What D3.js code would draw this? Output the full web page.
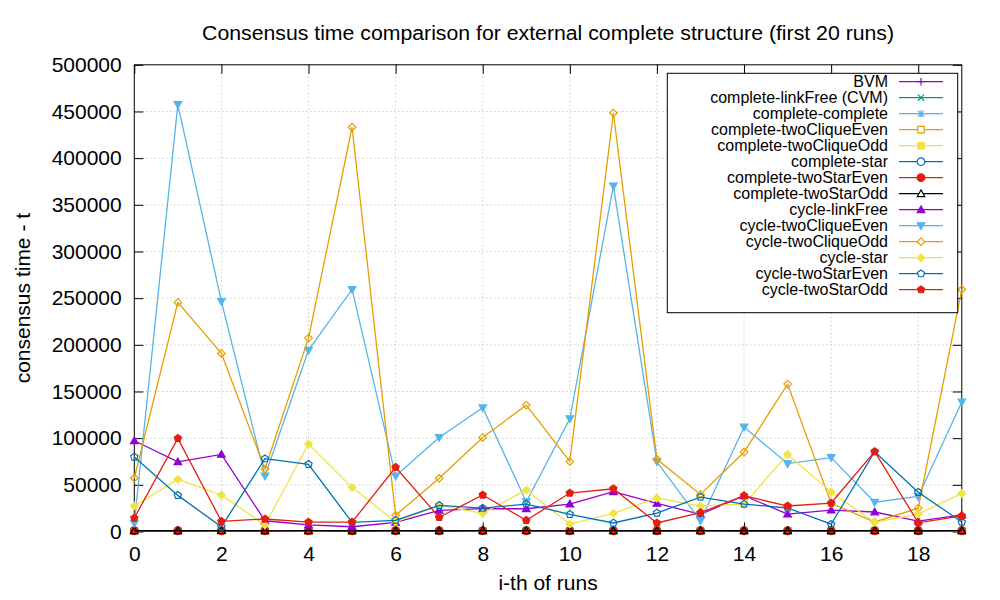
<!DOCTYPE html>
<html>
<head>
<meta charset="utf-8">
<script src="https://cdn.jsdelivr.net/npm/d3@7"></script>
<style>
  body { margin: 0; background: #fff; }
  text { font-family: "Liberation Sans", Arial, sans-serif; fill: #000; }
</style>
</head>
<body>
<script>
// runs on the x axis
var runs = d3.range(0, 20);
var xTicks = [0, 2, 4, 6, 8, 10, 12, 14, 16, 18];
var yTicks = [0, 50000, 100000, 150000, 200000, 250000, 300000, 350000, 400000, 450000, 500000];

// consensus time per run, one array per series
var bvm                    = [520, 480, 610, 450, 530, 590, 470, 500, 560, 440, 510, 620, 480, 530, 470, 550, 600, 490, 520, 460];
var completeLinkFree       = [610, 540, 480, 560, 500, 470, 590, 520, 450, 600, 530, 480, 560, 510, 590, 440, 520, 570, 490, 540];
var completeComplete       = [700, 560, 650, 520, 610, 580, 540, 660, 590, 520, 630, 570, 600, 550, 640, 590, 520, 610, 560, 620];
var completeTwoCliqueEven  = [820, 760, 690, 850, 720, 780, 810, 700, 760, 830, 690, 750, 800, 720, 780, 850, 730, 690, 770, 810];
var completeTwoCliqueOdd   = [900, 840, 950, 780, 880, 920, 860, 810, 940, 870, 820, 910, 850, 890, 930, 800, 870, 950, 830, 890];
var completeStar           = [650, 720, 590, 680, 740, 610, 700, 650, 620, 710, 680, 590, 730, 660, 620, 700, 640, 690, 610, 720];
var completeTwoStarEven    = [860, 910, 800, 940, 870, 830, 900, 960, 850, 880, 930, 820, 890, 940, 860, 810, 920, 880, 950, 840];
var completeTwoStarOdd     = [780, 830, 900, 760, 850, 810, 870, 790, 840, 900, 770, 860, 820, 880, 800, 850, 790, 910, 830, 860];
var cycleLinkFree          = [97200, 74700, 82600, 11500, 7000, 5100, 9800, 22700, 24400, 24400, 29400, 42600, 30200, 18400, 38300, 18700, 23000, 20900, 11200, 17700];
var cycleTwoCliqueEven     = [8800, 457400, 246500, 59400, 194300, 259300, 59400, 100800, 132600, 31900, 120800, 370300, 74700, 11600, 111900, 72700, 79200, 31400, 37500, 138700];
var cycleTwoCliqueOdd      = [57300, 245400, 190800, 66900, 207200, 433100, 17300, 57000, 100800, 135400, 75100, 448400, 77300, 39700, 85100, 157900, 30200, 10200, 25000, 259300];
var cycleStar              = [27300, 55900, 39100, 7000, 93700, 47300, 10200, 28000, 19500, 44400, 8000, 19500, 35900, 27300, 29400, 82600, 42300, 9800, 18700, 40900];
var cycleTwoStarEven       = [79800, 38700, 5000, 78000, 71900, 9800, 12000, 28000, 25000, 29400, 18400, 9100, 19800, 36900, 29400, 25200, 7800, 85500, 42100, 10100];
var cycleTwoStarOdd        = [14400, 99800, 10900, 13400, 10000, 10000, 68700, 15200, 39100, 12000, 41200, 45800, 9100, 20200, 38300, 27300, 30500, 85500, 9300, 16700];

var seriesNames = ["BVM", "complete-linkFree (CVM)", "complete-complete", "complete-twoCliqueEven",
  "complete-twoCliqueOdd", "complete-star", "complete-twoStarEven", "complete-twoStarOdd",
  "cycle-linkFree", "cycle-twoCliqueEven", "cycle-twoCliqueOdd", "cycle-star",
  "cycle-twoStarEven", "cycle-twoStarOdd"];
var seriesValues = [bvm, completeLinkFree, completeComplete, completeTwoCliqueEven,
  completeTwoCliqueOdd, completeStar, completeTwoStarEven, completeTwoStarOdd,
  cycleLinkFree, cycleTwoCliqueEven, cycleTwoCliqueOdd, cycleStar,
  cycleTwoStarEven, cycleTwoStarOdd];
var seriesColors = ["#9400d3", "#009e73", "#56b4e9", "#e69f00", "#f0e442", "#0072b2", "#e51e10", "#000000",
  "#9400d3", "#56b4e9", "#e69f00", "#f0e442", "#0072b2", "#e51e10"];
var seriesMarkers = ["plus", "cross", "star", "square", "squareF", "circle", "circleF", "triangle",
  "triangleF", "triDownF", "diamond", "diamondF", "pentagon", "pentagonF"];

var W = 1000, H = 600;
var plotL = 134.3, plotR = 961.8, plotT = 64.8, plotB = 531.5;

var svg = d3.select("body").append("svg")
    .attr("width", W)
    .attr("height", H);

var x = d3.scaleLinear().domain([0, 19]).range([plotL, plotR]);
var y = d3.scaleLinear().domain([0, 500000]).range([plotB, plotT]);

// grid
var grid = svg.append("g").attr("stroke", "#b0b0b0").attr("stroke-width", 1).attr("stroke-dasharray", "1,3");
grid.selectAll(".gx").data(xTicks.slice(1)).enter().append("line")
    .attr("x1", function(d){ return x(d); }).attr("x2", function(d){ return x(d); })
    .attr("y1", plotT).attr("y2", plotB);
grid.selectAll(".gy").data(yTicks.slice(1, -1)).enter().append("line")
    .attr("y1", function(d){ return y(d); }).attr("y2", function(d){ return y(d); })
    .attr("x1", plotL).attr("x2", plotR);

// axes (ticks drawn inward like gnuplot)
var fmt = d3.format("d");
var axL = svg.append("g").attr("transform", "translate(" + plotL + ",0)")
    .call(d3.axisLeft(y).tickValues(yTicks).tickFormat(fmt).tickSizeInner(-9).tickSizeOuter(0).tickPadding(12.6));
var axR = svg.append("g").attr("transform", "translate(" + plotR + ",0)")
    .call(d3.axisRight(y).tickValues(yTicks).tickFormat("").tickSizeInner(-9).tickSizeOuter(0));
var axB = svg.append("g").attr("transform", "translate(0," + plotB + ")")
    .call(d3.axisBottom(x).tickValues(xTicks).tickFormat(fmt).tickSizeInner(-9).tickSizeOuter(0).tickPadding(15));
var axT = svg.append("g").attr("transform", "translate(0," + plotT + ")")
    .call(d3.axisTop(x).tickValues(xTicks).tickFormat("").tickSizeInner(-9).tickSizeOuter(0));
[axL, axR, axB, axT].forEach(function(a){
  a.select(".domain").remove();
  a.selectAll("line").attr("stroke", "#000");
  a.selectAll("text").attr("font-size", 21).attr("font-family", "Liberation Sans, Arial, sans-serif");
});

// frame
svg.append("rect").attr("x", plotL).attr("y", plotT)
    .attr("width", plotR - plotL).attr("height", plotB - plotT)
    .attr("fill", "none").attr("stroke", "#000").attr("stroke-width", 1);

// marker shapes
function markerPath(t) {
  var s = 3.8;
  switch (t) {
    case "plus": return "M" + (-s) + ",0H" + s + "M0," + (-s) + "V" + s;
    case "cross": return "M" + (-s*0.8) + "," + (-s*0.8) + "L" + (s*0.8) + "," + (s*0.8) + "M" + (-s*0.8) + "," + (s*0.8) + "L" + (s*0.8) + "," + (-s*0.8);
    case "star": return markerPath("plus") + markerPath("cross");
    case "square": case "squareF": return "M" + (-s*0.85) + "," + (-s*0.85) + "h" + (s*1.7) + "v" + (s*1.7) + "h" + (-s*1.7) + "Z";
    case "circle": case "circleF": return d3.symbol(d3.symbolCircle, Math.PI * s * s)();
    case "triangle": case "triangleF": return "M0," + (-s) + "L" + s + "," + (s*0.75) + "L" + (-s) + "," + (s*0.75) + "Z";
    case "triDownF": return "M0," + s + "L" + s + "," + (-s*0.75) + "L" + (-s) + "," + (-s*0.75) + "Z";
    case "diamond": case "diamondF": return "M0," + (-s) + "L" + s + ",0L0," + s + "L" + (-s) + ",0Z";
    case "pentagon": case "pentagonF":
      var pts = d3.range(5).map(function(i){
        var a = -Math.PI / 2 + i * 2 * Math.PI / 5;
        return [s * Math.cos(a), s * Math.sin(a)];
      });
      return "M" + pts.join("L") + "Z";
  }
}
function isFilled(t) { return /F$/.test(t); }
function isLineOnly(t) { return t === "plus" || t === "cross" || t === "star"; }

var line = d3.line().x(function(d, i){ return x(runs[i]); }).y(function(d){ return y(d); });

seriesValues.forEach(function(vals, k) {
  var g = svg.append("g");
  var c = seriesColors[k], m = seriesMarkers[k];
  g.append("path").datum(vals).attr("d", line)
      .attr("fill", "none").attr("stroke", c).attr("stroke-width", 1.3);
  g.selectAll("path.pt").data(vals).enter().append("path")
      .attr("class", "pt")
      .attr("transform", function(d, i){ return "translate(" + x(runs[i]) + "," + y(d) + ")"; })
      .attr("d", markerPath(m))
      .attr("fill", isFilled(m) ? c : "none")
      .attr("stroke", c).attr("stroke-width", 1.2);
});

// legend
var lg = svg.append("g");
lg.append("rect").attr("x", 667.3).attr("y", 73.3).attr("width", 290.4).attr("height", 239.4)
    .attr("fill", "#fff").attr("stroke", "#000").attr("stroke-width", 1);
seriesNames.forEach(function(name, k) {
  var yy = 81.7 + 16 * k;
  var c = seriesColors[k], m = seriesMarkers[k];
  lg.append("text").attr("x", 888).attr("y", yy).attr("dy", "0.36em")
      .attr("text-anchor", "end").attr("font-size", 16).text(name);
  lg.append("line").attr("x1", 899).attr("x2", 943).attr("y1", yy).attr("y2", yy)
      .attr("stroke", c).attr("stroke-width", 1.3);
  lg.append("path").attr("transform", "translate(921," + yy + ")")
      .attr("d", markerPath(m))
      .attr("fill", isFilled(m) ? c : (isLineOnly(m) ? "none" : "#fff"))
      .attr("stroke", c).attr("stroke-width", 1.2);
});

// titles
svg.append("text").attr("x", (plotL + plotR) / 2).attr("y", 40)
    .attr("text-anchor", "middle").attr("font-size", 20)
    .attr("textLength", 692).attr("lengthAdjust", "spacingAndGlyphs")
    .text("Consensus time comparison for external complete structure (first 20 runs)");
svg.append("text").attr("x", (plotL + plotR) / 2).attr("y", 590)
    .attr("text-anchor", "middle").attr("font-size", 21)
    .text("i-th of runs");
svg.append("text").attr("transform", "translate(30," + ((plotT + plotB) / 2) + ") rotate(-90)")
    .attr("text-anchor", "middle").attr("font-size", 21)
    .text("consensus time - t");
</script>
</body>
</html>
